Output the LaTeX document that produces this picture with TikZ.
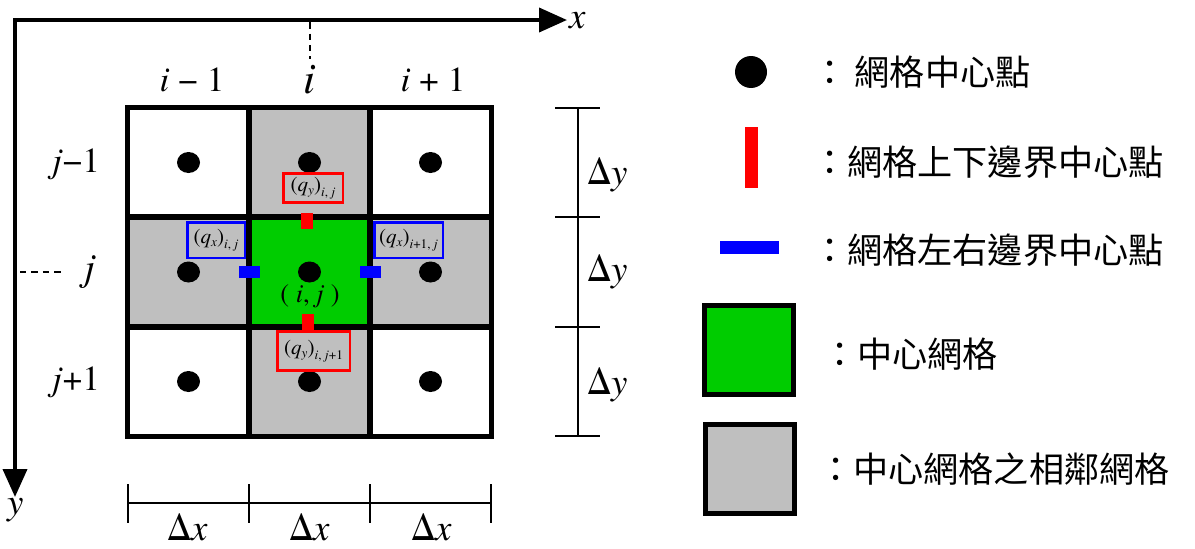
\documentclass[tikz,border=0pt]{standalone}
\usepackage{fontspec}
\setmainfont{TeX Gyre Termes}
\newfontfamily\cjk{Noto Sans CJK TC}
\usetikzlibrary{arrows.meta, positioning, calc, shapes.geometric}
\definecolor{cellgreen}{RGB}{0, 204, 0}
\definecolor{cellgray}{RGB}{191, 191, 191}
\definecolor{bndred}{RGB}{255, 0, 0}
\definecolor{bndblue}{RGB}{0, 0, 255}
\newcommand{\fsz}[1]{\fontsize{#1}{#1}\selectfont}
\newcommand{\qlbl}[2]{(\textit{q}\raisebox{-0.35ex}{\fsz{7.5pt}\textit{#1}})\raisebox{-0.5ex}{\fsz{7.5pt}#2}}

\begin{document}
\begin{tikzpicture}[x=0.02cm, y=-0.02cm,
    cell/.style={rectangle, minimum width=2.42cm, minimum height=2.19cm, inner sep=0pt},
    gridline/.style={line width=2.8pt},
    ctr/.style={ellipse, fill=black, minimum width=0.46cm, minimum height=0.42cm, inner sep=0pt},
    vbar/.style={rectangle, fill=bndred, minimum width=0.25cm, minimum height=0.33cm, inner sep=0pt},
    hbar/.style={rectangle, fill=bndblue, minimum width=0.42cm, minimum height=0.24cm, inner sep=0pt},
    qbox/.style={rectangle, line width=1.7pt, fill=cellgray, inner sep=0pt, font=\fsz{12pt}},
    axis/.style={line width=2.2pt, {Triangle[length=0.56cm, width=0.48cm]}-{Triangle[length=0.56cm, width=0.48cm]}},
    guide/.style={line width=1pt, dash pattern=on 0.13cm off 0.1cm},
    dim/.style={line width=0.9pt},
    idx/.style={font=\fsz{20pt}},
    dlbl/.style={font=\fsz{21pt}, inner sep=0pt},
    legtxt/.style={anchor=west, font=\cjk\fsz{20pt}},
    legsq/.style={rectangle, line width=2.8pt, draw=black, minimum size=1.78cm, inner sep=0pt}
]
\useasboundingbox (0,0) rectangle (1195,548);

% ── Axes ──
\coordinate (O) at (15,20);
\coordinate (xend) at (567,20);
\coordinate (yend) at (15,497);
\draw[axis] (yend) |- (xend);
\node[font=\fsz{21pt}\itshape, inner sep=0pt] (xl) at (578,21) {x};
\node[font=\fsz{21pt}\itshape, inner sep=0pt] (yl) at (16,510) {y};

% ── Cells ──
\foreach \c/\r/\col in {1/1/white, 2/1/cellgray, 3/1/white,
                        1/2/cellgray, 2/2/cellgreen, 3/2/cellgray,
                        1/3/white, 2/3/cellgray, 3/3/white}
    \node[cell, fill=\col] (c\c\r) at ({67.5+121*\c}, {53+109.5*\r}) {};
\foreach \c in {1,2,3}
    \foreach \r in {1,2,3}
        \draw[gridline] (c\c\r.north west) rectangle (c\c\r.south east);

% Cell centres
\foreach \c in {1,2,3}
    \foreach \r in {1,2,3}
        \node[ctr] (d\c\r) at (c\c\r) {};

\node[font=\fsz{15pt}] (ij) at (310,296) {( \textit{i}, \textit{j} )};

% ── Boundary centres ──
\node[vbar] (qyt) at (307,221) {};
\node[vbar] (qyb) at (308,322) {};
\node[hbar] (qxl) at (c12.east) {};
\node[hbar] (qxr) at (c22.east) {};

\node[qbox, draw=bndred, minimum width=1.2cm, minimum height=0.58cm] (lyt) at (313,188) {\qlbl{y}{\textit{i}, \textit{j}}};
\node[qbox, draw=bndred, minimum width=1.46cm, minimum height=0.78cm] (lyb) at (313.5,351) {\qlbl{y}{\textit{i}, \textit{j}+1}};
\node[qbox, draw=bndblue, minimum width=1.16cm, minimum height=0.72cm] (lxl) at (216,240) {\qlbl{x}{\textit{i}, \textit{j}}};
\node[qbox, draw=bndblue, minimum width=1.38cm, minimum height=0.72cm] (lxr) at (408.5,240) {\qlbl{x}{\textit{i}+1, \textit{j}}};

% ── Index labels ──
\node[idx] (li0) at (192,80) {\textit{i} − 1};
\node[font=\fsz{25pt}] (li) at (310,80) {\textit{i}};
\node[idx] (li2) at (433,80) {\textit{i} + 1};
\node[idx] (lj0) at (76,164) {\textit{j}−1};
\node[font=\fsz{22pt}] (lj) at (90,272) {\textit{j}};
\node[idx] (lj2) at (76,382) {\textit{j}+1};

\coordinate (ti) at (310,22);
\coordinate (tj) at (20,272);
\draw[guide] (ti) -- (li);
\draw[guide, shorten >=0.25cm] (tj) -- (lj);

% ── Dimensions ──
\foreach \k/\px in {0/128, 1/249, 2/370, 3/491} {
    \coordinate (bx\k) at (\px,503);
    \draw[dim] ([yshift=0.38cm]bx\k) -- ([yshift=-0.4cm]bx\k);
}
\draw[dim] (bx0) -- (bx3);
\foreach \k/\px in {1/188, 2/310, 3/432}
    \node[dlbl] (dx\k) at (\px,527) {Δ\textit{x}};

\foreach \k/\py in {0/108, 1/217, 2/327, 3/436} {
    \coordinate (by\k) at (578,\py);
    \draw[dim] ([xshift=-0.46cm]by\k) -- ([xshift=0.44cm]by\k);
}
\draw[dim] (by0) -- (by3);
\foreach \k/\py in {1/175, 2/272, 3/385}
    \node[dlbl] (dy\k) at (608,\py) {Δ\textit{y}};

% ── Legend ──
\node[circle, fill=black, minimum size=0.64cm, inner sep=0pt] (kdot) at (751,72) {};
\node[vbar, minimum height=1.22cm] (kred) at (751.5,157.5) {};
\node[hbar, minimum width=1.18cm, minimum height=0.26cm] (kblue) at (749.5,247) {};
\node[legsq, fill=cellgreen] (kgreen) at (749,350) {};
\node[legsq, fill=cellgray] (kgray) at (750,469) {};

\node[legtxt] (t1) at (806,72) {：\hspace{0.15cm}網格中心點};
\node[legtxt] (t2) at (806,162) {：網格上下邊界中心點};
\node[legtxt] (t3) at (806,250) {：網格左右邊界中心點};
\node[legtxt] (t4) at (816,354) {：中心網格};
\node[legtxt] (t5) at (812,469) {：中心網格之相鄰網格};

\end{tikzpicture}
\end{document}
